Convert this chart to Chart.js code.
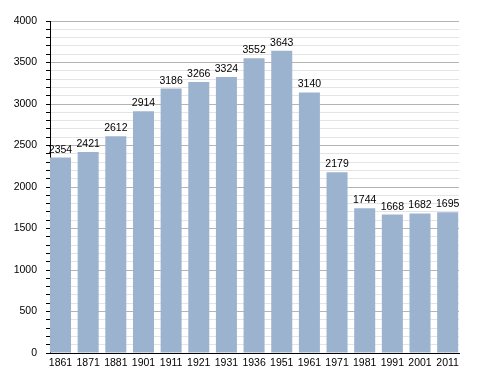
<!DOCTYPE html>
<html><head><meta charset="utf-8">
<script src="https://cdn.jsdelivr.net/npm/chart.js@4/dist/chart.umd.min.js"></script>
<style>html,body{margin:0;padding:0;background:#fff}#w{width:488px;height:373px}</style>
</head><body><div id="w"><canvas id="c"></canvas></div>
<script>
const years = ["1861","1871","1881","1901","1911","1921","1931","1936","1951","1961","1971","1981","1991","2001","2011"];
const population = [2354,2421,2612,2914,3186,3266,3324,3552,3643,3140,2179,1744,1668,1682,1695];
const yMin = 0, yMax = 4000, yMinorStep = 100, yMajorStep = 500;
const FONT = '"Liberation Sans", Arial, sans-serif';

const labelPlugin = {
  id: 'vals',
  afterDatasetsDraw(chart) {
    const ctx = chart.ctx;
    const meta = chart.getDatasetMeta(0);
    ctx.save();
    ctx.font = '10.5px ' + FONT;
    ctx.fillStyle = '#000';
    ctx.textAlign = 'center';
    ctx.textBaseline = 'alphabetic';
    meta.data.forEach((el, i) => {
      ctx.fillText(String(population[i]), el.x, el.y - 5);
    });
    ctx.restore();
  }
};

new Chart(document.getElementById('c'), {
  type: 'bar',
  data: { datasets: [{ data: population.map((v, i) => ({ x: i, y: v })), backgroundColor: '#9bb3cf', borderWidth: 0, barPercentage: 0.76, categoryPercentage: 1.0 }] },
  options: {
    responsive: true, maintainAspectRatio: false, animation: false,
    layout: { padding: { top: 21, right: 29, left: 0, bottom: 0 } },
    plugins: { legend: { display: false }, tooltip: { enabled: false } },
    scales: {
      x: {
        type: 'linear', min: -0.38, max: 14.41, offset: false,
        grid: { display: false, drawTicks: false },
        border: { display: true, color: '#000', width: 1 },
        afterBuildTicks(s) { s.ticks = years.map((_, i) => ({ value: i })); },
        ticks: { color: '#000', font: { family: FONT, size: 10.5 }, padding: 4, maxRotation: 0, autoSkip: false,
          callback: v => years[v] ?? '' },
        afterFit(s) { s.height = 20; }
      },
      y: {
        min: yMin, max: yMax,
        grid: {
          color: c => (c.tick && c.tick.value % yMajorStep === 0) ? '#b4b4b4' : '#e4e4e4',
          tickColor: '#000', tickLength: 4, drawTicks: true
        },
        border: { display: true, color: '#000', width: 1 },
        ticks: {
          stepSize: yMinorStep, autoSkip: false, color: '#000',
          font: { family: FONT, size: 10.5 },
          padding: 9,
          callback: v => (v % yMajorStep === 0) ? String(v) : ''
        },
        afterFit(s) { s.width = 50; }
      }
    }
  },
  plugins: [labelPlugin]
});
</script></body></html>
